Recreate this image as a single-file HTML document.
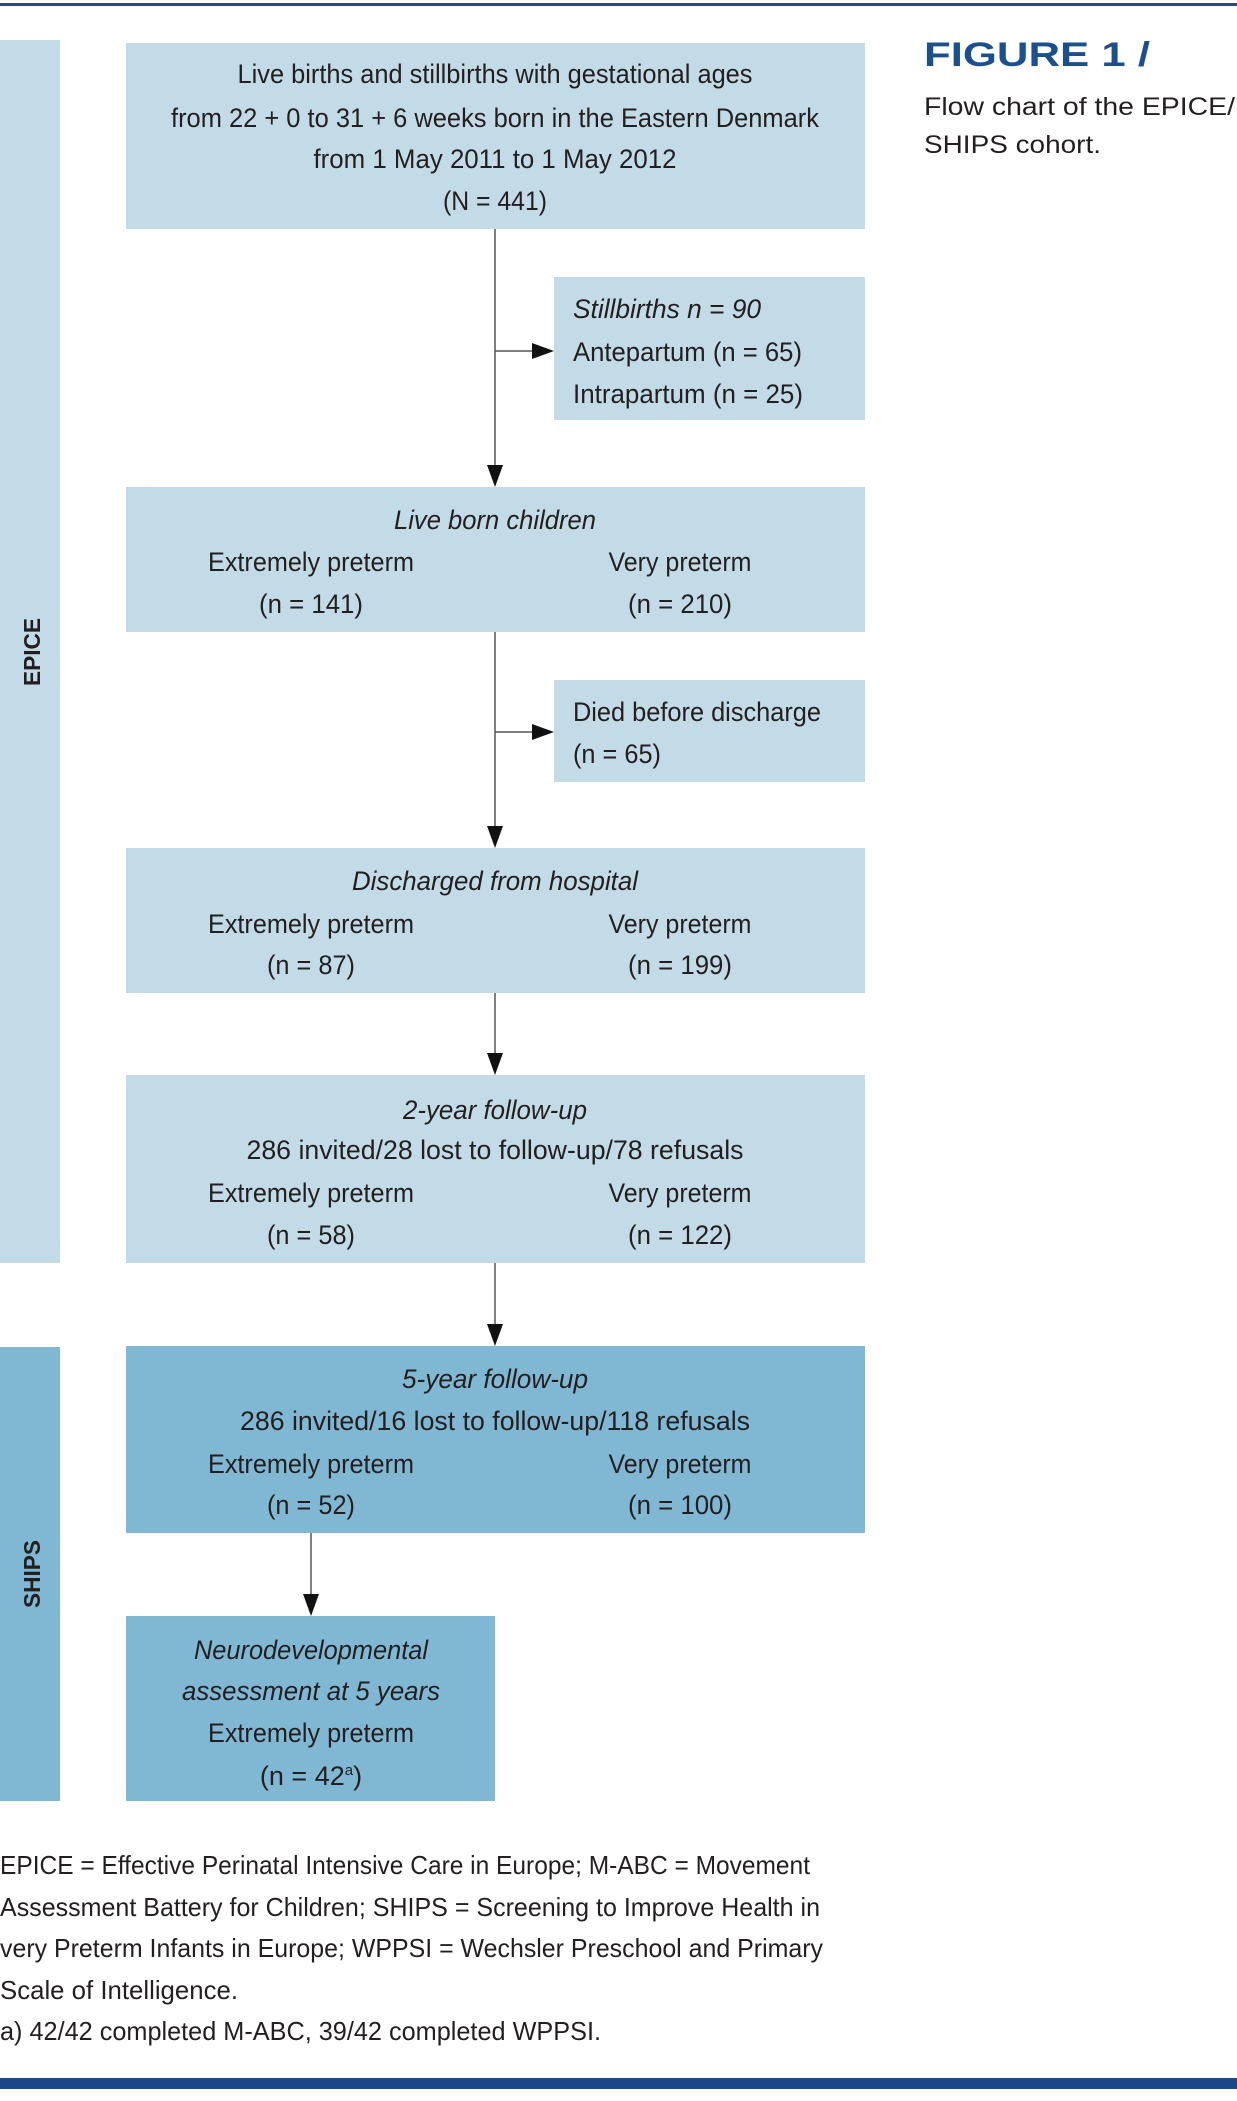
<!DOCTYPE html>
<html><head><meta charset="utf-8"><style>
html,body{margin:0;padding:0;background:#fff}
svg{display:block}
text{font-family:"Liberation Sans",sans-serif;fill:#231f20}
</style></head><body>
<svg width="1237" height="2101" viewBox="0 0 1237 2101" xmlns="http://www.w3.org/2000/svg">
<defs><marker id="a" markerWidth="10" markerHeight="10" refX="9" refY="5" orient="auto" markerUnits="userSpaceOnUse"><path d="M0,0 L0,0 L0,0" /></marker></defs>
<rect x="0" y="3" width="1237" height="3" fill="#1f4e8c"/>
<rect x="0" y="2078" width="1237" height="11" fill="#1a4786"/>
<!-- side bars -->
<rect x="0" y="40" width="60" height="1223" fill="#c2dbe7"/>
<rect x="0" y="1347" width="60" height="454" fill="#80b8d4"/>
<text transform="translate(40,652) rotate(-90)" text-anchor="middle" font-weight="bold" font-size="23" textLength="68" lengthAdjust="spacingAndGlyphs">EPICE</text>
<text transform="translate(40,1574) rotate(-90)" text-anchor="middle" font-weight="bold" font-size="23" textLength="68" lengthAdjust="spacingAndGlyphs">SHIPS</text>
<!-- boxes -->
<rect x="126" y="43" width="739" height="186" fill="#c2dbe7"/>
<rect x="554" y="277" width="311" height="143" fill="#c2dbe7"/>
<rect x="126" y="487" width="739" height="145" fill="#c2dbe7"/>
<rect x="554" y="680" width="311" height="102" fill="#c2dbe7"/>
<rect x="126" y="848" width="739" height="145" fill="#c2dbe7"/>
<rect x="126" y="1075" width="739" height="188" fill="#c2dbe7"/>
<rect x="126" y="1346" width="739" height="187" fill="#80b8d4"/>
<rect x="126" y="1616" width="369" height="185" fill="#80b8d4"/>
<!-- connectors -->
<g stroke="#555" stroke-width="1.5" fill="none">
<line x1="495" y1="229" x2="495" y2="470"/>
<line x1="495" y1="351" x2="536" y2="351"/>
<line x1="495" y1="632" x2="495" y2="831"/>
<line x1="495" y1="732" x2="536" y2="732"/>
<line x1="495" y1="993" x2="495" y2="1058"/>
<line x1="495" y1="1263" x2="495" y2="1329"/>
<line x1="311" y1="1533" x2="311" y2="1599"/>
</g>
<g fill="#111">
<polygon points="487,465 503,465 495,487"/>
<polygon points="532,343 532,359 554,351"/>
<polygon points="487,826 503,826 495,848"/>
<polygon points="532,724 532,740 554,732"/>
<polygon points="487,1053 503,1053 495,1075"/>
<polygon points="487,1324 503,1324 495,1346"/>
<polygon points="303,1594 319,1594 311,1616"/>
</g>
<g font-size="27" lengthAdjust="spacingAndGlyphs">
<text x="495" y="83" text-anchor="middle" textLength="515" lengthAdjust="spacingAndGlyphs">Live births and stillbirths with gestational ages</text>
<text x="495" y="127" text-anchor="middle" textLength="648" lengthAdjust="spacingAndGlyphs">from 22 + 0 to 31 + 6 weeks born in the Eastern Denmark</text>
<text x="495" y="168" text-anchor="middle" textLength="363" lengthAdjust="spacingAndGlyphs">from 1 May 2011 to 1 May 2012</text>
<text x="495" y="210" text-anchor="middle" textLength="104" lengthAdjust="spacingAndGlyphs">(N = 441)</text>

<text x="573" y="318" font-style="italic" textLength="188" lengthAdjust="spacingAndGlyphs">Stillbirths n = 90</text>
<text x="573" y="361" textLength="229" lengthAdjust="spacingAndGlyphs">Antepartum (n = 65)</text>
<text x="573" y="403" textLength="230" lengthAdjust="spacingAndGlyphs">Intrapartum (n = 25)</text>

<text x="495" y="529" text-anchor="middle" font-style="italic" textLength="202" lengthAdjust="spacingAndGlyphs">Live born children</text>
<text x="311" y="571" text-anchor="middle" textLength="206" lengthAdjust="spacingAndGlyphs">Extremely preterm</text>
<text x="680" y="571" text-anchor="middle" textLength="143" lengthAdjust="spacingAndGlyphs">Very preterm</text>
<text x="311" y="613" text-anchor="middle" textLength="104" lengthAdjust="spacingAndGlyphs">(n = 141)</text>
<text x="680" y="613" text-anchor="middle" textLength="104" lengthAdjust="spacingAndGlyphs">(n = 210)</text>

<text x="573" y="721" textLength="248" lengthAdjust="spacingAndGlyphs">Died before discharge</text>
<text x="573" y="763" textLength="88" lengthAdjust="spacingAndGlyphs">(n = 65)</text>

<text x="495" y="890" text-anchor="middle" font-style="italic" textLength="286" lengthAdjust="spacingAndGlyphs">Discharged from hospital</text>
<text x="311" y="933" text-anchor="middle" textLength="206" lengthAdjust="spacingAndGlyphs">Extremely preterm</text>
<text x="680" y="933" text-anchor="middle" textLength="143" lengthAdjust="spacingAndGlyphs">Very preterm</text>
<text x="311" y="974" text-anchor="middle" textLength="88" lengthAdjust="spacingAndGlyphs">(n = 87)</text>
<text x="680" y="974" text-anchor="middle" textLength="104" lengthAdjust="spacingAndGlyphs">(n = 199)</text>

<text x="495" y="1119" text-anchor="middle" font-style="italic" textLength="184" lengthAdjust="spacingAndGlyphs">2-year follow-up</text>
<text x="495" y="1159" text-anchor="middle" textLength="497" lengthAdjust="spacingAndGlyphs">286 invited/28 lost to follow-up/78 refusals</text>
<text x="311" y="1202" text-anchor="middle" textLength="206" lengthAdjust="spacingAndGlyphs">Extremely preterm</text>
<text x="680" y="1202" text-anchor="middle" textLength="143" lengthAdjust="spacingAndGlyphs">Very preterm</text>
<text x="311" y="1244" text-anchor="middle" textLength="88" lengthAdjust="spacingAndGlyphs">(n = 58)</text>
<text x="680" y="1244" text-anchor="middle" textLength="104" lengthAdjust="spacingAndGlyphs">(n = 122)</text>

<text x="495" y="1388" text-anchor="middle" font-style="italic" textLength="186" lengthAdjust="spacingAndGlyphs">5-year follow-up</text>
<text x="495" y="1430" text-anchor="middle" textLength="510" lengthAdjust="spacingAndGlyphs">286 invited/16 lost to follow-up/118 refusals</text>
<text x="311" y="1473" text-anchor="middle" textLength="206" lengthAdjust="spacingAndGlyphs">Extremely preterm</text>
<text x="680" y="1473" text-anchor="middle" textLength="143" lengthAdjust="spacingAndGlyphs">Very preterm</text>
<text x="311" y="1514" text-anchor="middle" textLength="88" lengthAdjust="spacingAndGlyphs">(n = 52)</text>
<text x="680" y="1514" text-anchor="middle" textLength="104" lengthAdjust="spacingAndGlyphs">(n = 100)</text>

<text x="311" y="1659" text-anchor="middle" font-style="italic" textLength="234" lengthAdjust="spacingAndGlyphs">Neurodevelopmental</text>
<text x="311" y="1700" text-anchor="middle" font-style="italic" textLength="258" lengthAdjust="spacingAndGlyphs">assessment at 5 years</text>
<text x="311" y="1742" text-anchor="middle" textLength="206" lengthAdjust="spacingAndGlyphs">Extremely preterm</text>
<text x="311" y="1785" text-anchor="middle">(n = 42<tspan font-size="15" dy="-10">a</tspan><tspan dy="10">)</tspan></text>
</g>
<!-- caption -->
<text x="924" y="66" font-size="34" font-weight="bold" style="fill:#1c4f8f" textLength="226" lengthAdjust="spacingAndGlyphs">FIGURE 1 /</text>
<text x="924" y="115" font-size="25" textLength="311" lengthAdjust="spacingAndGlyphs">Flow chart of the EPICE/</text>
<text x="924" y="153" font-size="25" textLength="177" lengthAdjust="spacingAndGlyphs">SHIPS cohort.</text>
<!-- footnote -->
<g font-size="26">
<text x="0" y="1874" textLength="810" lengthAdjust="spacingAndGlyphs">EPICE = Effective Perinatal Intensive Care in Europe; M-ABC = Movement</text>
<text x="0" y="1916" textLength="820" lengthAdjust="spacingAndGlyphs">Assessment Battery for Children; SHIPS = Screening to Improve Health in</text>
<text x="0" y="1957" textLength="823" lengthAdjust="spacingAndGlyphs">very Preterm Infants in Europe; WPPSI = Wechsler Preschool and Primary</text>
<text x="0" y="1999" textLength="238" lengthAdjust="spacingAndGlyphs">Scale of Intelligence.</text>
<text x="0" y="2040" textLength="601" lengthAdjust="spacingAndGlyphs">a) 42/42 completed M-ABC, 39/42 completed WPPSI.</text>
</g>
</svg>
</body></html>
